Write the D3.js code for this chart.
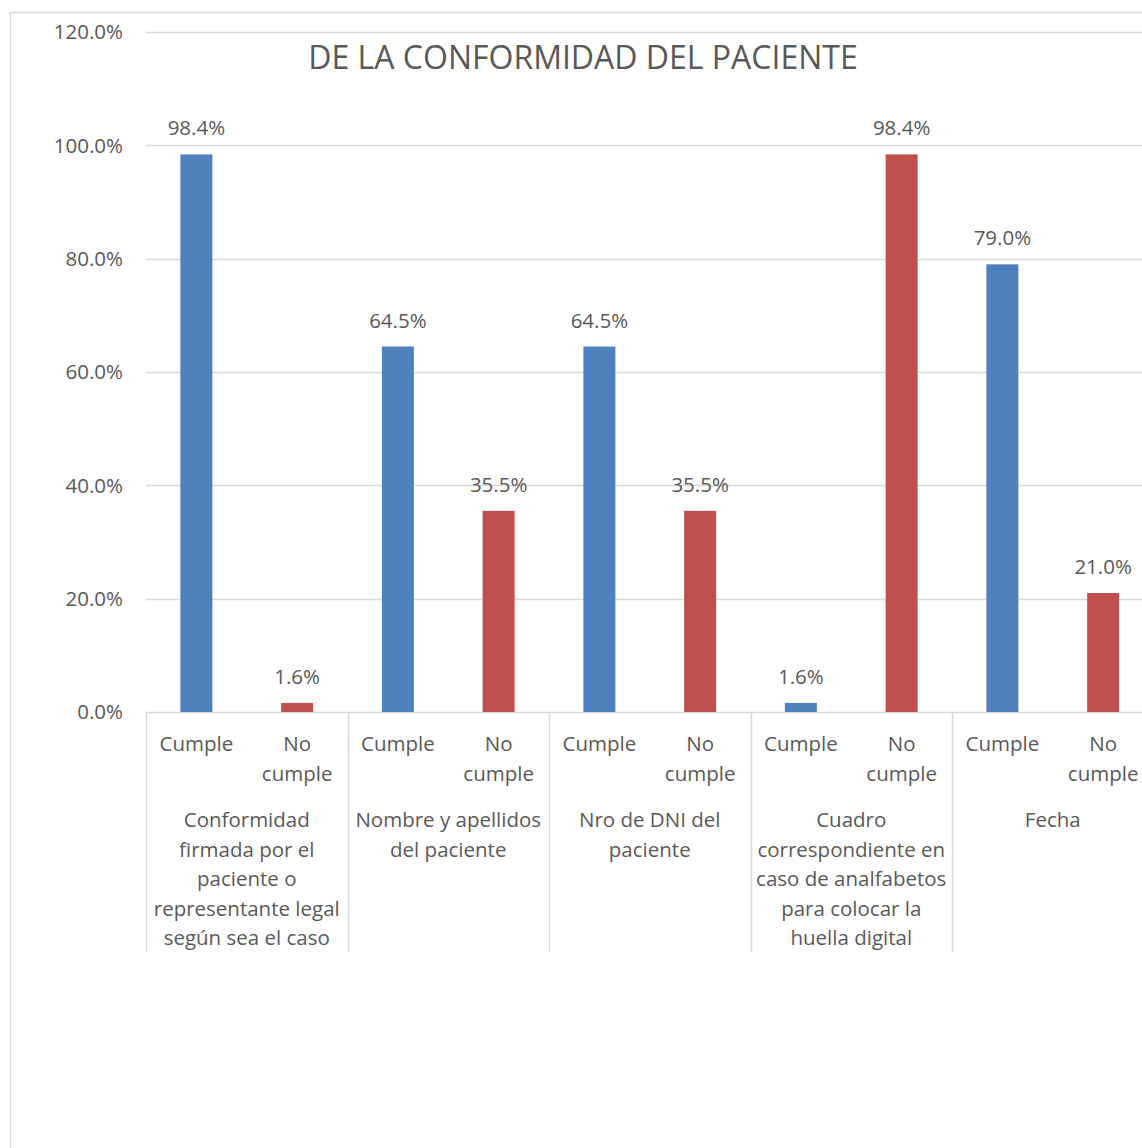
<!DOCTYPE html>
<html>
<head>
<meta charset="utf-8">
<script src="https://cdn.jsdelivr.net/npm/d3@7"></script>
<style>
  html, body { margin: 0; padding: 0; background: #fff; }
  svg { display: block; font-family: 'Open Sans', sans-serif; }
</style>
</head>
<body>
<svg id="chart" width="1142" height="1148"></svg>
<script>
// Chart data
const groups = ['conf', 'nombre', 'dni', 'cuadro', 'fecha'];
const groupLabels = [
  ['Conformidad', 'firmada por el', 'paciente o', 'representante legal', 'según sea el caso'],
  ['Nombre y apellidos', 'del paciente'],
  ['Nro de DNI del', 'paciente'],
  ['Cuadro', 'correspondiente en', 'caso de analfabetos', 'para colocar la', 'huella digital'],
  ['Fecha']
];
const subCats = ['Cumple', 'No cumple'];
const subLabels = [['Cumple'], ['No', 'cumple']];
const cumpleValues = [0.984, 0.645, 0.645, 0.016, 0.79];
const noCumpleValues = [0.016, 0.355, 0.355, 0.984, 0.21];
const yTicks = [0, 0.2, 0.4, 0.6, 0.8, 1.0, 1.2];
const title = 'DE LA CONFORMIDAD DEL PACIENTE';

const COLORS = { 'Cumple': '#4F81BD', 'No cumple': '#C0504D' };
const TEXT = '#595959';
const GRID = '#D9D9D9';
const FS = 20.5;

const svg = d3.select('#chart');

// outer chart frame
svg.append('rect')
  .attr('x', 10.5).attr('y', 12.5)
  .attr('width', 1200).attr('height', 1200)
  .attr('fill', 'none')
  .attr('stroke', GRID)
  .attr('stroke-width', 1.5);

const left = 146;
const groupStep = 201.5;
const x0 = d3.scaleBand()
  .domain(groups)
  .range([left, left + groupStep * groups.length])
  .padding(0);

const x1 = d3.scaleBand()
  .domain(subCats)
  .range([0, x0.bandwidth()])
  .paddingInner(1 - 32 / (groupStep / 2))
  .paddingOuter((1 - 32 / (groupStep / 2)) / 2);

const y = d3.scaleLinear().domain([0, 1.2]).range([712, 32]);
const fmt = d3.format('.1%');

// gridlines
svg.append('g')
  .selectAll('line')
  .data(yTicks)
  .join('line')
  .attr('x1', left).attr('x2', 1142)
  .attr('y1', d => Math.round(y(d)) + 0.5)
  .attr('y2', d => Math.round(y(d)) + 0.5)
  .attr('stroke', GRID)
  .attr('stroke-width', 1.5);

// y tick labels
svg.append('g')
  .selectAll('text')
  .data(yTicks)
  .join('text')
  .attr('x', 123)
  .attr('y', d => y(d))
  .attr('dy', '0.36em')
  .attr('text-anchor', 'end')
  .attr('fill', TEXT)
  .attr('font-size', FS)
  .text(d => fmt(d));

// title
svg.append('text')
  .attr('x', 583)
  .attr('y', 69)
  .attr('text-anchor', 'middle')
  .attr('fill', TEXT)
  .attr('font-size', 32)
  .text(title);

// bars
const rows = groups.map((g, i) => ({
  group: g,
  values: [
    { key: 'Cumple', value: cumpleValues[i] },
    { key: 'No cumple', value: noCumpleValues[i] }
  ]
}));

const gGroups = svg.append('g')
  .selectAll('g')
  .data(rows)
  .join('g')
  .attr('transform', d => `translate(${x0(d.group)},0)`);

gGroups.selectAll('rect')
  .data(d => d.values)
  .join('rect')
  .attr('x', d => x1(d.key))
  .attr('y', d => y(d.value))
  .attr('width', x1.bandwidth())
  .attr('height', d => y(0) - y(d.value))
  .attr('fill', d => COLORS[d.key]);

gGroups.selectAll('text.val')
  .data(d => d.values)
  .join('text')
  .attr('class', 'val')
  .attr('x', d => x1(d.key) + x1.bandwidth() / 2)
  .attr('y', d => y(d.value) - 19)
  .attr('text-anchor', 'middle')
  .attr('fill', TEXT)
  .attr('font-size', FS)
  .text(d => fmt(d.value));

// category axis: separators
const bounds = groups.map(g => x0(g)).concat([x0.range()[1]]);
svg.append('g')
  .selectAll('line')
  .data(bounds)
  .join('line')
  .attr('x1', d => Math.round(d) + 0.5)
  .attr('x2', d => Math.round(d) + 0.5)
  .attr('y1', 712)
  .attr('y2', 952)
  .attr('stroke', GRID)
  .attr('stroke-width', 1.5);

// sub category labels
gGroups.selectAll('text.sub')
  .data(subCats.map((s, i) => ({ key: s, lines: subLabels[i] })))
  .join('text')
  .attr('class', 'sub')
  .attr('x', d => x1(d.key) + x1.bandwidth() / 2)
  .attr('y', 751)
  .attr('text-anchor', 'middle')
  .attr('fill', TEXT)
  .attr('font-size', FS)
  .selectAll('tspan')
  .data(d => d.lines)
  .join('tspan')
  .attr('x', function () { return d3.select(this.parentNode).attr('x'); })
  .attr('dy', (d, i) => i === 0 ? 0 : 29.5)
  .text(d => d);

// group labels
svg.append('g')
  .selectAll('text')
  .data(groups.map((g, i) => ({ group: g, lines: groupLabels[i] })))
  .join('text')
  .attr('x', d => x0(d.group) + x0.bandwidth() / 2)
  .attr('y', 827)
  .attr('text-anchor', 'middle')
  .attr('fill', TEXT)
  .attr('font-size', FS)
  .selectAll('tspan')
  .data(d => d.lines.map(l => ({ l, x: x0(d.group) + x0.bandwidth() / 2 })))
  .join('tspan')
  .attr('x', d => d.x)
  .attr('dy', (d, i) => i === 0 ? 0 : 29.5)
  .text(d => d.l);
</script>
</body>
</html>
